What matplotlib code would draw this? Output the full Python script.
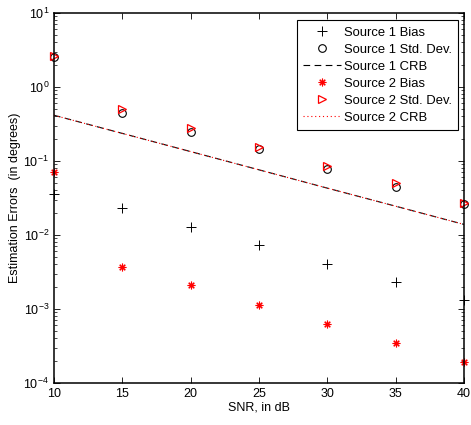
import numpy as np
import matplotlib
matplotlib.use("Agg")
import matplotlib.pyplot as plt
from matplotlib.ticker import LogLocator, NullFormatter

plt.rcParams['font.family'] = ['Liberation Sans', 'DejaVu Sans']
plt.rcParams['mathtext.fontset'] = 'custom'
plt.rcParams['mathtext.rm'] = 'Liberation Sans'

# SNR values (dB)
snr = [10, 15, 20, 25, 30, 35, 40]

# errors (degrees)
s1_bias = [0.036, 0.0233, 0.013, 0.0074, 0.0041, 0.0023, 0.00133]
s1_std = [2.53, 0.44, 0.25, 0.144, 0.079, 0.045, 0.026]
s1_crb = [0.415, 0.236, 0.134, 0.076, 0.043, 0.0245, 0.0139]
s2_bias = [0.070, 0.0037, 0.0021, 0.00115, 0.00062, 0.00035, 0.00019]
s2_std = [2.6, 0.50, 0.28, 0.155, 0.085, 0.05, 0.027]
s2_crb = [0.415, 0.236, 0.134, 0.076, 0.043, 0.0245, 0.0139]

fig = plt.figure(figsize=(4.71, 4.25), dpi=100)
ax = fig.add_axes([0.1146, 0.0988, 0.8705, 0.8706])

# matlab-like asterisk (+ and x together)
star = (8, 2, 0)

ax.plot(snr, s1_bias, '+', color='k', markersize=6.5, markeredgewidth=0.7,
        clip_on=False, label='Source 1 Bias')
ax.plot(snr, s1_std, 'o', color='k', markerfacecolor='none', markersize=5.5,
        markeredgewidth=0.8, clip_on=False, label='Source 1 Std. Dev.')
ax.plot(snr, s1_crb, '--', color='k', linewidth=0.8, dashes=(6, 4), label='Source 1 CRB')
ax.plot(snr, s2_bias, linestyle='none', marker=star, color='red', markersize=5.5,
        markeredgewidth=0.8, clip_on=False, label='Source 2 Bias')
ax.plot(snr, s2_std, '>', color='red', markerfacecolor='none', markersize=6,
        markeredgewidth=0.9, clip_on=False, label='Source 2 Std. Dev.')
ax.plot(snr, s2_crb, ':', color='red', linewidth=0.8, dashes=(1, 2.5), label='Source 2 CRB')

ax.set_yscale('log')
ax.set_xlim(10, 40)
ax.set_ylim(1e-4, 1e1)
ax.set_xticks([10, 15, 20, 25, 30, 35, 40])
ax.yaxis.set_major_locator(LogLocator(base=10, numticks=10))
ax.yaxis.set_minor_locator(LogLocator(base=10, subs=np.arange(2, 10), numticks=20))
ax.yaxis.set_minor_formatter(NullFormatter())

ax.tick_params(which='both', direction='in', top=True, right=True, labelsize=9)
ax.tick_params(which='major', length=4, width=0.6)
ax.tick_params(which='minor', length=2, width=0.5)
for s in ax.spines.values():
    s.set_linewidth(1.1)

ax.set_xlabel('SNR, in dB', fontsize=9, labelpad=1)
ax.set_ylabel('Estimation Errors  (in degrees)', fontsize=9, labelpad=2)

leg = ax.legend(loc='upper right', fontsize=9.4, frameon=True, fancybox=False,
                edgecolor='k', framealpha=1, handlelength=2.9, handletextpad=0.2,
                labelspacing=0.37, borderpad=0.5, borderaxespad=0,
                bbox_to_anchor=(0.9855, 0.981))
leg.get_frame().set_linewidth(0.8)

fig.savefig('out.png', dpi=100)
